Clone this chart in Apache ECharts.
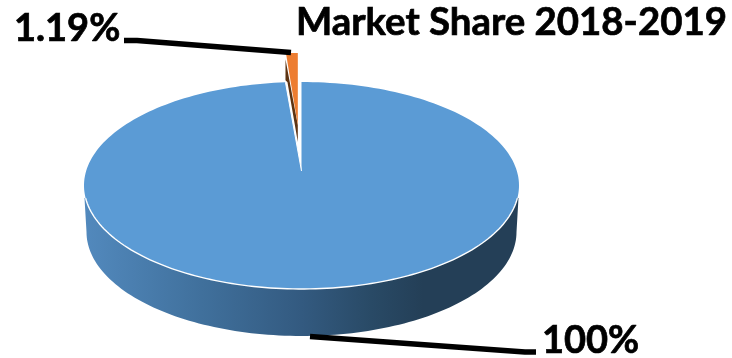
<!DOCTYPE html>
<html>
<head>
<meta charset="utf-8">
<title>Market Share 2018-2019</title>
<script src="https://cdn.jsdelivr.net/npm/echarts@6/dist/echarts.min.js"></script>
<style>
  html, body { margin: 0; padding: 0; background: #fff; }
  #chart { width: 732px; height: 358px; }
</style>
</head>
<body>
<div id="chart"></div>
<script>
// Slice values, in percent, as printed on the chart
const sliceNames = ['Market share', 'Change'];
const sliceValues = [100, 1.19];
const chartTitle = 'Market Share 2018-2019';

const FONT = 'Lato, "Open Sans", sans-serif';
const total = sliceValues.reduce((a, b) => a + b, 0);

// Tilted-disc projection of the pie
const TOP = { cx: 301.5, cy: 185.5, rx: 217.5, ry: 103.5, apexY: 171 };
const BASE = { cx: 301.5, cy: 232, rx: 215, ry: 104 };
const PULLED = { apexX: 297.8, apexY: 125, rx: 160, ry: 72 };

function ellipsePoint(e, deg, cy) {
  const t = deg * Math.PI / 180;
  return [e.cx + e.rx * Math.sin(t), (cy === undefined ? e.cy : cy) - e.ry * Math.cos(t)];
}
function arc(e, from, to) {
  const pts = [];
  const n = Math.max(2, Math.ceil(Math.abs(to - from) / 1.5));
  for (let i = 0; i <= n; i++) pts.push(ellipsePoint(e, from + (to - from) * i / n));
  return pts;
}

function discWall() {
  // Lower half of the base ellipse, closed across behind the top face
  const pts = arc(BASE, 90, 270);
  pts.push([84.5, 198], [518.5, 198]);
  return {
    type: 'polygon',
    shape: { points: pts },
    style: {
      fill: new echarts.graphic.LinearGradient(0, 0, 1, 0, [
        { offset: 0, color: '#5289bd' },
        { offset: 0.27, color: '#40709c' },
        { offset: 0.5, color: '#335a80' },
        { offset: 0.66, color: '#294a66' },
        { offset: 0.78, color: '#243f57' },
        { offset: 1, color: '#243f57' }
      ])
    }
  };
}

function valueLabel(text, x, y) {
  return {
    type: 'text',
    style: {
      text, x, y,
      font: 'bold 38px ' + FONT,
      fill: '#000',
      stroke: '#000',
      lineWidth: 0.7,
      textVerticalAlign: 'middle'
    }
  };
}

function renderSlice(params, api) {
  const value = api.value(0);
  const sweep = 360 * value / total;
  const pct = value + '%';
  const children = [];

  if (params.dataIndex === 0) {
    // Large slice: wall, top face, bright front rim, leader and label
    const start = 0;
    const end = sweep;
    children.push(discWall());
    const face = arc(TOP, start, end);
    face.push([TOP.cx, TOP.apexY]);
    children.push({ type: 'polygon', shape: { points: face }, style: { fill: '#5b9bd5' } });
    children.push({
      type: 'polyline',
      shape: { points: arc(TOP, 97, 263) },
      style: { stroke: '#ffffff', lineWidth: 1.4, fill: 'none' }
    });
    children.push({
      type: 'polyline',
      shape: { points: [ellipsePoint(TOP, end), [TOP.cx, TOP.apexY]] },
      style: { stroke: '#ffffff', lineWidth: 1, fill: 'none' }
    });
    children.push({
      type: 'polyline',
      shape: { points: [[310, 336.5], [525, 352], [536, 352]] },
      style: { stroke: '#000', lineWidth: 5.5, fill: 'none', lineJoin: 'round' }
    });
    children.push(valueLabel(pct, 542, 341));
  } else {
    // Small slice, pulled out of the disc
    const a0 = 360 - sweep;
    const rad = a0 * Math.PI / 180;
    const leftX = PULLED.apexX + PULLED.rx * Math.sin(rad);
    const leftY = PULLED.apexY - PULLED.ry * Math.cos(rad);
    const tipX = PULLED.apexX;
    const face = [[tipX, PULLED.apexY]];
    for (let i = 0; i <= 4; i++) {
      const t = (a0 + sweep * i / 4) * Math.PI / 180;
      face.push([PULLED.apexX + PULLED.rx * Math.sin(t), PULLED.apexY - PULLED.ry * Math.cos(t)]);
    }
    children.push({
      type: 'polygon',
      shape: { points: [[tipX, PULLED.apexY], [tipX, PULLED.apexY + 17], [leftX + 1.5, leftY + 29], [leftX - 0.5, leftY + 27], [leftX - 0.5, leftY + 6]] },
      style: { fill: '#5e3413' }
    });
    children.push({ type: 'polygon', shape: { points: face }, style: { fill: '#ed7d31' } });
    children.push({
      type: 'polyline',
      shape: { points: [[124, 40.5], [137, 40.5], [291, 52.5]] },
      style: { stroke: '#000', lineWidth: 5.5, fill: 'none', lineJoin: 'round' }
    });
    children.push(valueLabel(pct, 14, 29));
  }
  return { type: 'group', children };
}

const chart = echarts.init(document.getElementById('chart'), null, { renderer: 'canvas' });
chart.setOption({
  animation: false,
  backgroundColor: '#ffffff',
  title: {
    text: chartTitle,
    left: 296,
    top: 4,
    padding: 0,
    textStyle: {
      fontFamily: FONT,
      fontWeight: 'bold',
      fontSize: 38.4,
      color: '#000',
      textBorderColor: '#000',
      textBorderWidth: 0.7
    }
  },
  series: [{
    type: 'custom',
    coordinateSystem: 'none',
    silent: true,
    renderItem: renderSlice,
    data: sliceValues.map((v, i) => ({ name: sliceNames[i], value: [v] }))
  }]
});
</script>
</body>
</html>
